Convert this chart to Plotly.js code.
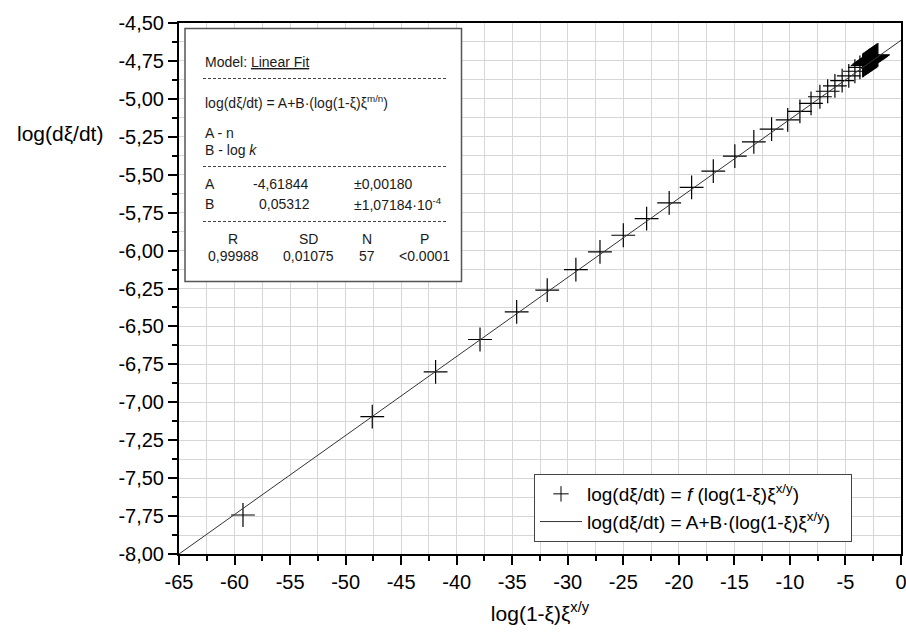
<!DOCTYPE html>
<html>
<head>
<meta charset="utf-8">
<script src="https://cdn.plot.ly/plotly-3.0.1.min.js"></script>
<style>html,body{margin:0;padding:0;background:#fff;}#chart{width:906px;height:636px;}</style>
</head>
<body>
<div id="chart"></div>
<script>
// ---- data ----
const pointsX = [-59.24,-47.6,-41.9,-37.9,-34.6,-31.85,-29.27,-27.1,-25.0,-22.9,-20.87,-18.85,-16.9,-14.96,-13.25,-11.65,-10.2,-9.1,-8.1,-7.3,-6.6,-5.95,-5.3,-4.7,-4.15,-3.7,
  -3.45,-3.38,-3.32,-3.26,-3.20,-3.15,-3.10,-3.05,-3.00,-2.96,-2.92,-2.88,-2.84,-2.80,-2.76,-2.72,-2.68,-2.64,-2.60,-2.56,-2.52,-2.48,-2.44,-2.40,-2.36,-2.32,-2.28,-2.24,-2.20,-2.14,-2.08];
const pointsY = [-7.743,-7.095,-6.800,-6.586,-6.404,-6.261,-6.125,-6.009,-5.899,-5.789,-5.686,-5.584,-5.477,-5.378,-5.284,-5.200,-5.138,-5.082,-5.030,-4.986,-4.950,-4.915,-4.880,-4.848,-4.818,-4.792,
  -4.780,-4.777,-4.772,-4.771,-4.766,-4.765,-4.761,-4.760,-4.756,-4.755,-4.752,-4.751,-4.748,-4.747,-4.744,-4.743,-4.740,-4.739,-4.736,-4.735,-4.732,-4.731,-4.728,-4.727,-4.724,-4.723,-4.720,-4.719,-4.716,-4.713,-4.710];
const fitX = [-65, 0];
const fitY = [-8.0, -4.614];

const xTickVals = [-65,-60,-55,-50,-45,-40,-35,-30,-25,-20,-15,-10,-5,0];
const xTickText = ["-65","-60","-55","-50","-45","-40","-35","-30","-25","-20","-15","-10","-5","0"];
const yTickVals = [-8,-7.75,-7.5,-7.25,-7,-6.75,-6.5,-6.25,-6,-5.75,-5.5,-5.25,-5,-4.75,-4.5];
const yTickText = ["-8,00","-7,75","-7,50","-7,25","-7,00","-6,75","-6,50","-6,25","-6,00","-5,75","-5,50","-5,25","-5,00","-4,75","-4,50"];

const seriesNames = ["log(dξ/dt) = <i>f</i> (log(1-ξ)ξ<sup>x/y</sup>)", "log(dξ/dt) = A+B·(log(1-ξ)ξ<sup>x/y</sup>)"];
const xTitle = "log(1-ξ)ξ<sup>x/y</sup>";
const yTitle = "log(dξ/dt)";

const boxHeader = "Model: <u>Linear Fit</u>";
const boxEquation = "log(dξ/dt) = A+B·(log(1-ξ)ξ<sup>m/n</sup>)";
const boxNotes = ["A - n", "B - log <i>k</i>"];
const paramNames = ["A", "B"];
const paramValues = ["-4,61844", "0,05312"];
const paramErrors = ["±0,00180", "±1,07184·10<sup>-4</sup>"];
const statNames = ["R", "SD", "N", "P"];
const statValues = ["0,99988", "0,01075", "57", "&lt;0.0001"];

// ---- layout helpers (pixel -> paper) ----
const L = 179, R = 901, T = 23, B = 554;
const px = v => (v - L) / (R - L);
const py = v => (B - v) / (B - T);
const FONT = "Liberation Sans, Arial, sans-serif";
const PAD = "&nbsp;&nbsp;&nbsp;";

const traces = [
  {x: pointsX, y: pointsY, type: 'scatter', mode: 'markers', name: seriesNames[0], showlegend: false,
   marker: {symbol: 'cross-thin-open', size: 17, color: '#000', line: {color: '#000', width: 1.2}}},
  // legend-only entry (smaller symbol, as in the reference legend)
  {x: [null], y: [null], type: 'scatter', mode: 'markers', name: seriesNames[0] + PAD, legendrank: 1,
   marker: {symbol: 'cross-thin-open', size: 11, color: '#000', line: {color: '#333', width: 1}}},
  {x: fitX, y: fitY, type: 'scatter', mode: 'lines', name: seriesNames[1] + PAD, legendrank: 2,
   line: {color: '#333', width: 1}}
];

const boxFont = {family: FONT, size: 14, color: '#1a1a1a'};
const ann = [];
function A(text, x, y, anchor) { ann.push({text, xref: 'paper', yref: 'paper', x: px(x), y: py(y), xanchor: anchor || 'left', yanchor: 'middle', showarrow: false, font: boxFont}); }
A(boxHeader, 203, 62);
A(boxEquation, 203, 102);
A(boxNotes[0], 203, 133);
A(boxNotes[1], 203, 150);
const rowY = [184, 204];
const valX = [251, 257];
for (let i = 0; i < 2; i++) { A(paramNames[i], 203, rowY[i]); A(paramValues[i], valX[i], rowY[i]); A(paramErrors[i], 352, rowY[i]); }
const colX = [233, 308, 367, 424];
for (let i = 0; i < 4; i++) { A(statNames[i], colX[i], 239, 'center'); A(statValues[i], colX[i], 256, 'center'); }
ann.push({text: yTitle, xref: 'paper', yref: 'paper', x: px(60), y: py(133), xanchor: 'center', yanchor: 'middle', showarrow: false, font: {family: FONT, size: 21, color: '#000'}});

const shapes = [
  {type: 'rect', xref: 'paper', yref: 'paper', x0: px(185), x1: px(461.5), y0: py(281.5), y1: py(28.5), line: {color: '#555', width: 1.5}, fillcolor: '#fff', layer: 'above'}
];
[78.5, 166.5, 221.5].forEach(v => shapes.push({type: 'line', xref: 'paper', yref: 'paper', x0: px(203), x1: px(447), y0: py(v), y1: py(v), line: {color: '#444', width: 1, dash: '3px,2px'}, layer: 'above'}));

const gridC = '#d6d6d6';
const layout = {
  width: 906, height: 636,
  margin: {l: L, r: 906 - R, t: T, b: 636 - B},
  paper_bgcolor: '#fff', plot_bgcolor: '#fff',
  font: {family: FONT, size: 20, color: '#000'},
  showlegend: true,
  legend: {x: px(852), y: py(474), xanchor: 'right', yanchor: 'top', bgcolor: '#fff', bordercolor: '#444', borderwidth: 1,
           font: {family: FONT, size: 19, color: '#000'}, tracegroupgap: 0, itemwidth: 42, traceorder: 'normal'},
  xaxis: {range: [-65, 0], tickmode: 'array', tickvals: xTickVals, ticktext: xTickText, ticklabeloverflow: 'allow',
          ticks: 'outside', ticklen: 9, tickwidth: 2, tickcolor: '#000',
          showline: true, linewidth: 2, linecolor: '#000', mirror: true,
          showgrid: true, gridcolor: gridC, gridwidth: 1, zeroline: false,
          minor: {tickmode: 'linear', tick0: 0, dtick: 2.5, ticks: 'outside', ticklen: 5, tickwidth: 2, tickcolor: '#000', showgrid: true, gridcolor: gridC, gridwidth: 1},
          tickfont: {family: FONT, size: 20},
          title: {text: xTitle, font: {family: FONT, size: 21}, standoff: 14}},
  yaxis: {range: [-8, -4.5], tickmode: 'array', tickvals: yTickVals, ticktext: yTickText, ticklabeloverflow: 'allow',
          ticks: 'outside', ticklen: 9, tickwidth: 2, tickcolor: '#000',
          showline: true, linewidth: 2, linecolor: '#000', mirror: true,
          showgrid: true, gridcolor: gridC, gridwidth: 1, zeroline: false,
          minor: {tickmode: 'linear', tick0: -8, dtick: 0.125, ticks: 'outside', ticklen: 5, tickwidth: 2, tickcolor: '#000', showgrid: true, gridcolor: gridC, gridwidth: 1},
          tickfont: {family: FONT, size: 20}},
  annotations: ann,
  shapes: shapes
};

Plotly.newPlot('chart', traces, layout, {displayModeBar: false, staticPlot: true});
</script>
</body>
</html>
